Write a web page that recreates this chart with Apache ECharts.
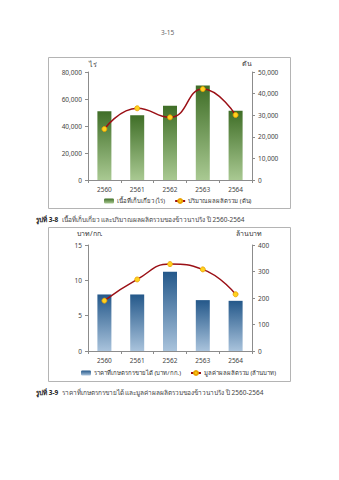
<!DOCTYPE html>
<html><head><meta charset="utf-8">
<script src="https://cdn.jsdelivr.net/npm/echarts@6/dist/echarts.min.js"></script>
<style>html,body{margin:0;padding:0;background:#fff}#c{width:339px;height:480px}</style>
</head><body><div id="c"></div>
<script>
const years = ['2560','2561','2562','2563','2564'];
const areaRai = [51000, 48000, 55000, 70000, 51300];
const outputTon = [23600, 33200, 29000, 42100, 30100];
const priceBahtKg = [8.0, 8.0, 11.2, 7.2, 7.1];
const valueMillionBaht = [190, 270, 328, 308, 214];
const ticks1Left = [0, 20000, 40000, 60000, 80000];
const ticks1Right = [0, 10000, 20000, 30000, 40000, 50000];
const ticks2Left = [0, 5, 10, 15];
const ticks2Right = [0, 100, 200, 300, 400];

const FONT = '"Noto Sans", "DejaVu Sans", sans-serif';
const fmt = v => v.toLocaleString('en-US');
const axisCommon = {
  axisLine: {show: true, lineStyle: {color: '#8c8c8c', width: 1}},
  axisTick: {show: true, length: 3, lineStyle: {color: '#8c8c8c'}},
  splitLine: {show: false},
  axisLabel: {fontSize: 6.5, color: '#444', fontFamily: FONT, margin: 6}
};
function yAx(grid, pos, arr, withComma){
  return Object.assign({}, axisCommon, {
    type: 'value', gridIndex: grid, position: pos,
    min: arr[0], max: arr[arr.length-1], interval: arr[1]-arr[0],
    axisLabel: Object.assign({}, axisCommon.axisLabel, {formatter: v => withComma ? fmt(v) : String(v)})
  });
}
const greenGrad = new echarts.graphic.LinearGradient(0,0,0,1,[{offset:0,color:'#3f6e27'},{offset:1,color:'#a9c992'}]);
const blueGrad = new echarts.graphic.LinearGradient(0,0,0,1,[{offset:0,color:'#24588a'},{offset:1,color:'#a9c3dc'}]);
const chart = echarts.init(document.getElementById('c'), null, {renderer: 'svg'});
const legText = {fontSize: 6, color: '#333', fontFamily: FONT, padding: [0,0,0,-2]};
chart.setOption({
  animation: false,
  textStyle: {fontFamily: FONT},
  grid: [
    {left: 88, right: 87, top: 72, height: 108},
    {left: 88, right: 87, top: 245, height: 106}
  ],
  xAxis: [0,1].map(g => Object.assign({}, axisCommon, {
    type: 'category', gridIndex: g, data: years, boundaryGap: true,
    axisTick: {show: true, length: 3, alignWithLabel: false, lineStyle: {color: '#8c8c8c'}},
    axisLabel: Object.assign({}, axisCommon.axisLabel, {margin: 6})
  })),
  yAxis: [
    yAx(0, 'left', ticks1Left, true),
    yAx(0, 'right', ticks1Right, true),
    yAx(1, 'left', ticks2Left, false),
    yAx(1, 'right', ticks2Right, false)
  ],
  legend: [
    {data: ['เนื้อที่เก็บเกี่ยว (ไร่)', 'ปริมาณผลผลิตรวม (ตัน)'], left: 104, top: 198, padding: 0, itemWidth: 10, itemHeight: 5, itemGap: 9,
     textStyle: legText},
    {data: ['ราคาที่เกษตรกรขายได้ (บาท/กก.)', 'มูลค่าผลผลิตรวม (ล้านบาท)'], left: 81, top: 370, padding: 0, itemWidth: 10, itemHeight: 5, itemGap: 9,
     textStyle: legText}
  ],
  series: [
    {name: 'เนื้อที่เก็บเกี่ยว (ไร่)', type: 'bar', xAxisIndex: 0, yAxisIndex: 0, data: areaRai, barWidth: 14,
     itemStyle: {color: greenGrad}},
    {name: 'ปริมาณผลผลิตรวม (ตัน)', type: 'line', xAxisIndex: 0, yAxisIndex: 1, data: outputTon, smooth: true,
     lineStyle: {color: '#9b1016', width: 1.5}, symbol: 'circle', symbolSize: 5,
     itemStyle: {color: '#ffd21f', borderColor: '#e8a000', borderWidth: 0.8}},
    {name: 'ราคาที่เกษตรกรขายได้ (บาท/กก.)', type: 'bar', xAxisIndex: 1, yAxisIndex: 2, data: priceBahtKg, barWidth: 14,
     itemStyle: {color: blueGrad}},
    {name: 'มูลค่าผลผลิตรวม (ล้านบาท)', type: 'line', xAxisIndex: 1, yAxisIndex: 3, data: valueMillionBaht, smooth: true,
     lineStyle: {color: '#9b1016', width: 1.5}, symbol: 'circle', symbolSize: 5,
     itemStyle: {color: '#ffd21f', borderColor: '#e8a000', borderWidth: 0.8}}
  ],
  graphic: [
    {type: 'rect', shape: {x: 48.5, y: 57.5, width: 242, height: 151}, style: {fill: 'none', stroke: '#b4b4b4', lineWidth: 1}, z: -1},
    {type: 'rect', shape: {x: 48.5, y: 227.5, width: 242, height: 154}, style: {fill: 'none', stroke: '#b4b4b4', lineWidth: 1}, z: -1},
    {type: 'text', left: 161, top: 29, style: {text: '3-15', fontSize: 6.5, fill: '#666', fontFamily: FONT}},
    {type: 'text', left: 89, top: 61, style: {text: 'ไร่', fontSize: 7, fill: '#333', fontFamily: FONT}},
    {type: 'text', left: 242, top: 60, style: {text: 'ตัน', fontSize: 7, fill: '#333', fontFamily: FONT}},
    {type: 'text', left: 77, top: 230, style: {text: 'บาท/กก.', fontSize: 7, fill: '#333', fontFamily: FONT}},
    {type: 'text', left: 236, top: 230, style: {text: 'ล้านบาท', fontSize: 7, fill: '#333', fontFamily: FONT}},
    {type: 'text', left: 36, top: 213, style: {rich: {b: {fontWeight: 'bold', fontSize: 6.5, fill: '#222', fontFamily: FONT}, n: {fontSize: 6.5, fill: '#444', fontFamily: FONT}},
      text: '{b|รูปที่ 3-8} {n|เนื้อที่เก็บเกี่ยว และปริมาณผลผลิตรวมของข้าวนาปรัง ปี 2560-2564}'}},
    {type: 'text', left: 36, top: 386, style: {rich: {b: {fontWeight: 'bold', fontSize: 6.5, fill: '#222', fontFamily: FONT}, n: {fontSize: 6.5, fill: '#444', fontFamily: FONT}},
      text: '{b|รูปที่ 3-9} {n|ราคาที่เกษตรกรขายได้ และมูลค่าผลผลิตรวมของข้าวนาปรัง ปี 2560-2564}'}}
  ]
});
</script></body></html>
